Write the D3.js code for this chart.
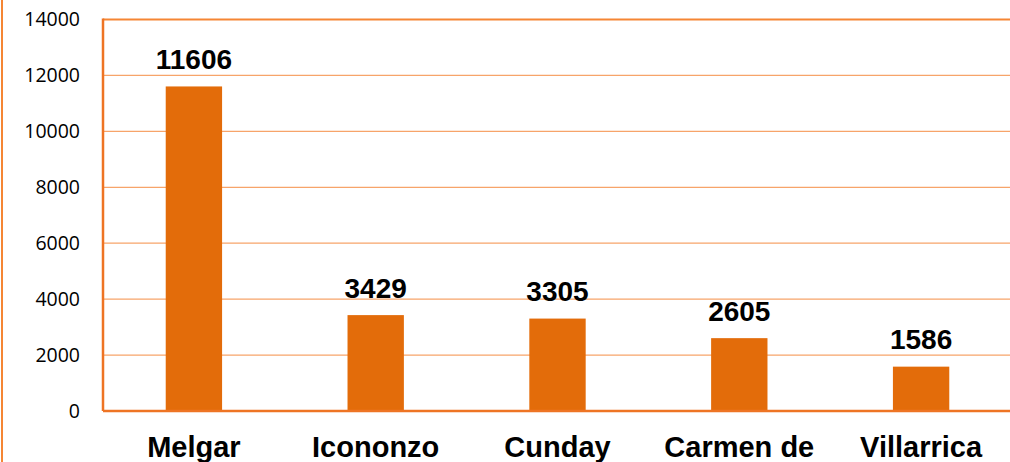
<!DOCTYPE html>
<html>
<head>
<meta charset="utf-8">
<script src="https://cdn.jsdelivr.net/npm/d3@7"></script>
<style>
  body { margin: 0; background: #fff; }
  svg { display: block; }
</style>
</head>
<body>
<svg width="1010" height="462"></svg>
<script>
var municipios = ["Melgar", "Icononzo", "Cunday", "Carmen de", "Villarrica"];
var valores = [11606, 3429, 3305, 2605, 1586];
var yTicks = [0, 2000, 4000, 6000, 8000, 10000, 12000, 14000];

var svg = d3.select("svg");
var plotLeft = 103, plotRight = 1012, plotTop = 19.5, plotBottom = 411;

// outer frame (left edge only visible)
svg.append("line")
  .attr("x1", 2).attr("x2", 2).attr("y1", 0).attr("y2", 462)
  .attr("stroke", "#F58634").attr("stroke-width", 2);

var x = d3.scaleBand().domain(municipios).range([plotLeft, plotRight]).paddingInner(0.69).paddingOuter(0.345);
var y = d3.scaleLinear().domain([0, 14000]).range([plotBottom, plotTop]);

// gridlines
svg.append("g").selectAll("line")
  .data(yTicks.filter(function(d) { return d > 0; }))
  .enter().append("line")
  .attr("x1", plotLeft).attr("x2", 1010)
  .attr("y1", function(d) { return y(d); })
  .attr("y2", function(d) { return y(d); })
  .attr("stroke", function(d) { return d == 14000 ? "#F58634" : "#F7A46A"; })
  .attr("stroke-width", function(d) { return d == 14000 ? 2 : 1.3; });

// y axis
var yAxis = svg.append("g")
  .attr("transform", "translate(" + plotLeft + ",0)")
  .call(d3.axisLeft(y).tickValues(yTicks).tickSize(0).tickPadding(23).tickFormat(d3.format("d")));
yAxis.select(".domain").remove();
yAxis.selectAll("text")
  .attr("font-family", "'Open Sans', 'Noto Sans', sans-serif")
  .attr("font-size", "19.5px")
  .attr("fill", "#000");

svg.append("line")
  .attr("x1", plotLeft).attr("x2", plotLeft).attr("y1", plotTop - 1).attr("y2", plotBottom)
  .attr("stroke", "#EE7424").attr("stroke-width", 2.5);

// bars
svg.append("g").selectAll("rect")
  .data(valores)
  .enter().append("rect")
  .attr("x", function(d, i) { return x(municipios[i]); })
  .attr("y", function(d) { return y(d); })
  .attr("width", x.bandwidth())
  .attr("height", function(d) { return plotBottom - y(d); })
  .attr("fill", "#E36C0A");

// baseline
svg.append("line")
  .attr("x1", plotLeft).attr("x2", 1010).attr("y1", plotBottom).attr("y2", plotBottom)
  .attr("stroke", "#EE7424").attr("stroke-width", 2.5);

// value labels
svg.append("g").selectAll("text")
  .data(valores)
  .enter().append("text")
  .attr("x", function(d, i) { return x(municipios[i]) + x.bandwidth() / 2; })
  .attr("y", function(d) { return y(d) - 17.5; })
  .attr("text-anchor", "middle")
  .attr("font-family", "'Liberation Sans', Arial, sans-serif")
  .attr("font-weight", "bold")
  .attr("font-size", "28px")
  .text(function(d) { return d; });

// category labels
svg.append("g").selectAll("text")
  .data(municipios)
  .enter().append("text")
  .attr("x", function(d) { return x(d) + x.bandwidth() / 2; })
  .attr("y", 457)
  .attr("text-anchor", "middle")
  .attr("font-family", "'Liberation Sans', Arial, sans-serif")
  .attr("font-weight", "bold")
  .attr("font-size", "29px")
  .text(function(d) { return d; });
</script>
</body>
</html>
